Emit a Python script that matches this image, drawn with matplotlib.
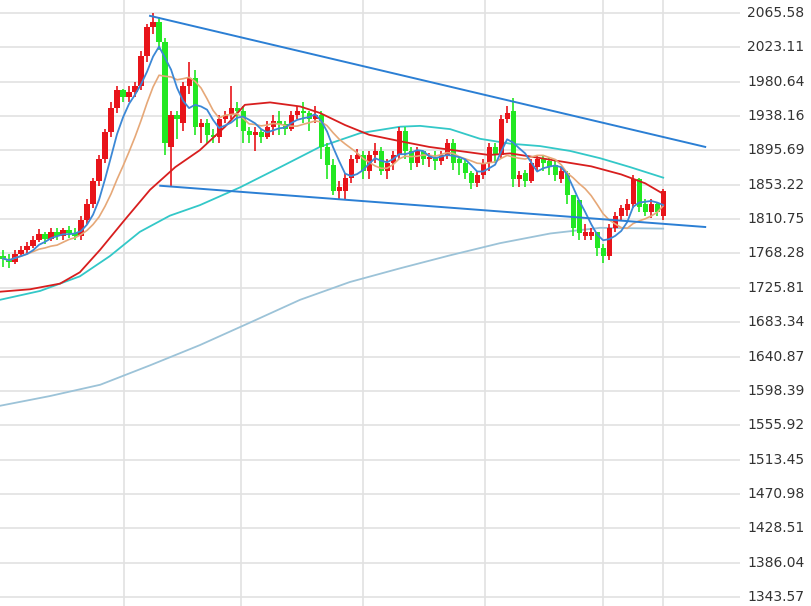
import matplotlib
matplotlib.use("Agg")
import matplotlib.pyplot as plt
import numpy as np
import pandas as pd

# daily candles (red = up, green = down)
opens = [1765, 1762, 1758, 1768, 1772, 1778, 1785, 1792, 1786, 1795, 1790, 1797, 1793, 1790, 1810,
         1830, 1858, 1885, 1918, 1948, 1970, 1962, 1968, 1975, 2012, 2048, 2055,
         2030, 1900, 1940, 1930, 1975, 1985, 1925, 1930, 1915, 1912, 1935, 1940, 1948, 1945,
         1920, 1915, 1918, 1912, 1925, 1932, 1928, 1922, 1940, 1945, 1942, 1935, 1940, 1900,
         1878, 1845, 1845, 1862, 1885, 1890, 1870, 1890, 1895, 1870, 1880, 1890, 1920,
         1895, 1880, 1895, 1885, 1888, 1882, 1890, 1905, 1885, 1880, 1868, 1855, 1865,
         1880, 1900, 1890, 1935, 1945, 1860, 1868, 1858, 1875, 1885, 1882, 1878, 1860,
         1868, 1840, 1834, 1790, 1790, 1795, 1775, 1765, 1800, 1815, 1822, 1830, 1860,
         1830, 1820, 1830, 1815]
closes = [1762, 1758, 1768, 1772, 1778, 1785, 1792, 1786, 1795, 1790, 1797, 1793, 1790, 1810, 1830,
          1858, 1885, 1918, 1948, 1970, 1962, 1968, 1975, 2012, 2048, 2055, 2030,
          1905, 1940, 1935, 1975, 1985, 1925, 1930, 1915, 1912, 1935, 1940, 1948, 1945, 1920,
          1915, 1918, 1912, 1925, 1932, 1928, 1922, 1940, 1945, 1942, 1935, 1940, 1900, 1878,
          1845, 1850, 1862, 1885, 1890, 1870, 1890, 1895, 1870, 1880, 1890, 1920, 1895,
          1880, 1895, 1885, 1888, 1882, 1890, 1905, 1880, 1880, 1868, 1855, 1865, 1880,
          1900, 1890, 1935, 1942, 1860, 1865, 1858, 1880, 1885, 1880, 1875, 1865, 1870,
          1840, 1800, 1793, 1795, 1795, 1775, 1765, 1800, 1815, 1825, 1830, 1860, 1826,
          1820, 1830, 1820, 1845]
highs = [1772, 1768, 1772, 1778, 1782, 1790, 1798, 1795, 1800, 1800, 1800, 1802, 1800, 1815, 1835,
         1862, 1890, 1922, 1955, 1975, 1972, 1975, 1980, 2018, 2052, 2065, 2060,
         2035, 1945, 1945, 1980, 2005, 1995, 1935, 1935, 1922, 1940, 1945, 1975, 1955, 1950,
         1925, 1925, 1922, 1932, 1940, 1945, 1932, 1945, 1950, 1955, 1945, 1950, 1945, 1905,
         1885, 1858, 1868, 1890, 1898, 1895, 1895, 1905, 1900, 1885, 1895, 1925, 1925,
         1900, 1900, 1895, 1892, 1895, 1895, 1910, 1910, 1888, 1885, 1870, 1870, 1885,
         1905, 1905, 1940, 1950, 1960, 1870, 1872, 1885, 1890, 1890, 1888, 1882, 1875,
         1870, 1840, 1800, 1805, 1800, 1795, 1780, 1805, 1820, 1828, 1835, 1865, 1862,
         1835, 1835, 1832, 1848]
lows = [1752, 1750, 1755, 1765, 1768, 1775, 1782, 1780, 1784, 1785, 1785, 1788, 1785, 1785, 1805,
        1825, 1852, 1880, 1912, 1942, 1955, 1955, 1962, 1970, 2005, 2040, 2020,
        1890, 1850, 1910, 1920, 1965, 1915, 1905, 1905, 1905, 1905, 1930, 1935, 1925, 1905,
        1905, 1895, 1905, 1910, 1915, 1915, 1915, 1920, 1935, 1930, 1920, 1930, 1885, 1860,
        1840, 1835, 1835, 1855, 1880, 1860, 1860, 1880, 1865, 1860, 1872, 1885, 1885,
        1872, 1875, 1878, 1875, 1872, 1878, 1885, 1872, 1865, 1860, 1848, 1850, 1860,
        1870, 1880, 1885, 1930, 1850, 1850, 1850, 1855, 1870, 1870, 1865, 1858, 1855,
        1830, 1790, 1785, 1785, 1785, 1765, 1757, 1760, 1795, 1810, 1815, 1825, 1820,
        1815, 1812, 1815, 1810]

# longer moving averages (candle index, price)
ma20_idx = [-0.5, 4.5, 9.5, 12.8, 16.2, 20.3, 24.5, 28.7, 32.8, 37, 40.3, 44.5, 49.5, 52.8,
            57, 61, 66.2, 71, 76, 81, 84.5, 88, 93, 98, 103, 107, 110]
ma20_val = [1721, 1724, 1731, 1745, 1773, 1810, 1847, 1875, 1896, 1925, 1952, 1955, 1950, 1942,
            1927, 1915, 1907, 1900, 1895, 1890, 1892, 1888, 1882, 1876, 1866, 1855, 1842]
ma60_idx = [-0.5, 6.2, 12.8, 17.8, 22.8, 27.8, 32.8, 39.5, 46.2, 52.8, 59.5, 66.2, 69.5,
            74.5, 79.5, 84.5, 89.5, 94.5, 99.5, 104.5, 110]
ma60_val = [1711, 1722, 1740, 1765, 1795, 1815, 1828, 1850, 1875, 1900, 1917, 1925, 1926,
            1922, 1910, 1904, 1901, 1895, 1886, 1875, 1862]
ma120_idx = [-0.5, 7.8, 16.2, 24.5, 32.8, 41.2, 49.5, 57.8, 66.2, 74.5, 82.8, 91.2, 99.5, 110]
ma120_val = [1580, 1592, 1606, 1630, 1655, 1683, 1711, 1733, 1750, 1766, 1781, 1793, 1800, 1799]

# trend lines (candle index, price)
upper_line = ([24.5, 117], [2062, 1900])
lower_line = ([26.2, 117], [1852, 1801])

yticks = [2065.58, 2023.11, 1980.64, 1938.16, 1895.69, 1853.22, 1810.75, 1768.28, 1725.81,
          1683.34, 1640.87, 1598.39, 1555.92, 1513.45, 1470.98, 1428.51, 1386.04, 1343.57]
vgrid = [20.2, 39.7, 60, 80.3, 100, 110]

n = len(closes)
x = np.arange(n)
s = pd.Series(closes)
ma5 = s.rolling(5, min_periods=1).mean()
ma10 = s.rolling(10, min_periods=1).mean()

fig = plt.figure(figsize=(8.12, 6.06), dpi=100)
ax = fig.add_axes([0, 0, 740 / 812, 1])
ax.set_xlim(-0.5, 122.8)
ax.set_ylim(1332.5, 2081.6)

for v in yticks:
    ax.axhline(v, color="#e2e2e2", lw=1.2, zorder=0)
for v in vgrid:
    ax.axvline(v, color="#e2e2e2", lw=1.2, zorder=0)

ax.plot(ma120_idx, ma120_val, color="#9cc3d8", lw=1.3, zorder=1)
ax.plot(ma60_idx, ma60_val, color="#33c8c8", lw=1.3, zorder=1)
ax.plot(ma20_idx, ma20_val, color="#d81e1e", lw=1.3, zorder=3)

for i in range(n):
    o, c = opens[i], closes[i]
    col = "#e8141a" if c >= o else "#22e822"
    hi = max(highs[i], o, c)
    lo = min(lows[i], o, c)
    ax.vlines(i, lo, hi, color=col, lw=1.2, zorder=2)
    ax.bar(i, max(abs(c - o), 1.5), bottom=min(o, c), width=0.85, color=col, zorder=2)

ax.plot(x, ma10, color="#e6a878", lw=1.2, zorder=3)
ax.plot(x, ma5, color="#3c88d6", lw=1.3, zorder=4)
ax.plot(*upper_line, color="#2b7fd4", lw=1.4, zorder=5)
ax.plot(*lower_line, color="#2b7fd4", lw=1.4, zorder=5)

ax.set_xticks([])
ax.set_yticks([])
for sp in ax.spines.values():
    sp.set_visible(False)
for v in yticks:
    fig.text(747 / 812, (v - 1332.5) / (2081.6 - 1332.5), f"{v:.2f}", ha="left", va="center",
             fontsize=10, family="DejaVu Sans", color="#333333")

fig.savefig("out.png", dpi=100)
